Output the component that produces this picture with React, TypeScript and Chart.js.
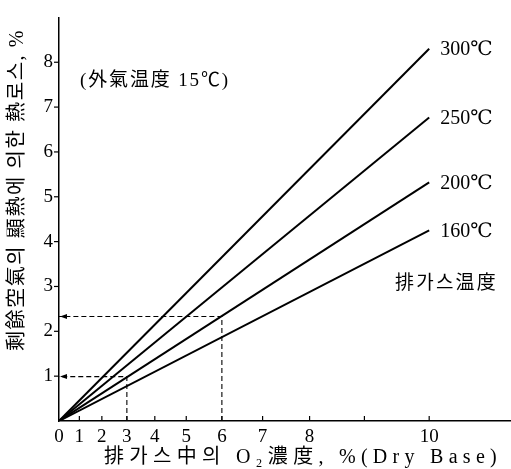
import React, { useEffect, useRef } from 'react';
import { Chart, registerables } from 'chart.js';

Chart.register(...registerables);

// ---- data ----
const o2Range = [0, 10]; // % O2 (dry base), line end points
const tempLabels = ['300℃', '250℃', '200℃', '160℃'];
const loss300 = [0, 8.3];
const loss250 = [0, 6.77];
const loss200 = [0, 5.32];
const loss160 = [0, 4.25];
const xTickO2 = [0, 1, 2, 3, 4, 5, 6, 7, 8, 9, 10];
const xTickLabels = ['0', '1', '2', '3', '4', '5', '6', '7', '8', '', '10'];
const yTickValues = [1, 2, 3, 4, 5, 6, 7, 8];
const guideO2 = [3, 6];
const guideLoss = [0.99, 2.33];
const noteText = '(外氣温度 15℃)';
const groupText = '排가스温度';
const xTitle = '排가스中의 O₂濃度, %(Dry Base)';
const yTitle = '剩餘空氣의 顯熱에 의한 熱로스, %';

// axis transform: O2 % -> excess air fraction (the x axis is linear in it)
const excessAir = (o2: number) => o2 / (21 - o2);

const SERIF = '"Liberation Serif", "DejaVu Serif", "Noto Sans CJK KR", serif';
const CJK = '"Liberation Serif", "Noto Sans CJK KR", serif';

function fitText(ctx: CanvasRenderingContext2D, text: string, width: number) {
  (ctx as any).letterSpacing = '0px';
  const w = ctx.measureText(text).width;
  const n = Array.from(text).length;
  const ls = n > 1 ? Math.max(0, (width - w) / n) : 0;
  (ctx as any).letterSpacing = ls + 'px';
}

const decorPlugin = {
  id: 'decor',
  afterDraw(chart: any) {
    const ctx: CanvasRenderingContext2D = chart.ctx;
    const xs = chart.scales.x;
    const ys = chart.scales.y;
    const area = chart.chartArea;
    ctx.save();
    ctx.strokeStyle = '#000';
    ctx.fillStyle = '#000';
    ctx.lineWidth = 1.2;
    // x ticks (inward, upward)
    xTickO2.forEach((v) => {
      if (v === 0) return;
      const px = xs.getPixelForValue(excessAir(v));
      ctx.beginPath();
      ctx.moveTo(px, area.bottom);
      ctx.lineTo(px, area.bottom - 5);
      ctx.stroke();
    });
    // y ticks (outward)
    yTickValues.forEach((v) => {
      const py = ys.getPixelForValue(v);
      ctx.beginPath();
      ctx.moveTo(area.left, py);
      ctx.lineTo(area.left - 5, py);
      ctx.stroke();
    });
    // arrowheads on guides
    guideLoss.forEach((v) => {
      const py = ys.getPixelForValue(v);
      const tx = area.left + 1;
      ctx.beginPath();
      ctx.moveTo(tx, py);
      ctx.lineTo(tx + 7, py - 2.5);
      ctx.lineTo(tx + 7, py + 2.5);
      ctx.closePath();
      ctx.fill();
    });
    // line labels
    const ends = [loss300, loss250, loss200, loss160];
    ctx.font = '20px ' + SERIF;
    ctx.textBaseline = 'middle';
    ctx.textAlign = 'left';
    tempLabels.forEach((t, i) => {
      const px = xs.getPixelForValue(excessAir(o2Range[1]));
      const py = ys.getPixelForValue(ends[i][1]);
      ctx.fillText(t, px + 11, py + 1);
    });
    // notes
    ctx.font = '19px ' + CJK;
    ctx.textAlign = 'left';
    fitText(ctx, noteText, 150);
    ctx.fillText(noteText, 80, 81);
    fitText(ctx, groupText, 103);
    ctx.fillText(groupText, 395, 284);
    // x title
    ctx.font = '20px ' + CJK;
    fitText(ctx, xTitle, 398);
    ctx.fillText(xTitle, 104, 458);
    // y title
    ctx.save();
    ctx.translate(18, 351);
    ctx.rotate(-Math.PI / 2);
    ctx.font = '20px ' + CJK;
    fitText(ctx, yTitle, 322);
    ctx.fillText(yTitle, 0, 0);
    ctx.restore();
    (ctx as any).letterSpacing = '0px';
    ctx.restore();
  },
};

export default function App() {
  const ref = useRef<HTMLCanvasElement | null>(null);
  useEffect(() => {
    if (!ref.current) return;
    const mkLine = (ys: number[]) => ({
      data: o2Range.map((o, i) => ({ x: excessAir(o), y: ys[i] })),
      borderColor: '#000',
      borderWidth: 2,
      pointRadius: 0,
      fill: false,
    });
    const guides = guideO2.map((o, i) => ({
      data: [
        { x: excessAir(o), y: 0 },
        { x: excessAir(o), y: guideLoss[i] },
        { x: 0, y: guideLoss[i] },
      ],
      borderColor: '#000',
      borderWidth: 1.1,
      borderDash: [5, 3],
      pointRadius: 0,
      fill: false,
    }));
    const chart = new Chart(ref.current, {
      type: 'line',
      data: {
        datasets: [
          mkLine(loss300),
          mkLine(loss250),
          mkLine(loss200),
          mkLine(loss160),
          ...guides,
        ] as any,
      },
      options: {
        responsive: false,
        animation: false,
        devicePixelRatio: 1,
        layout: { padding: { top: 10, right: 0, left: 0, bottom: 0 } },
        plugins: { legend: { display: false }, tooltip: { enabled: false } },
        scales: {
          x: {
            type: 'linear',
            min: 0,
            max: 1.11,
            afterFit: (s: any) => {
              s.height = 48;
            },
            afterBuildTicks: (s: any) => {
              s.ticks = xTickO2.map((v) => ({ value: excessAir(v) }));
            },
            ticks: {
              autoSkip: false,
              maxRotation: 0,
              padding: 5,
              color: '#000',
              font: { size: 19, family: SERIF },
              callback: (_v: any, i: number) => xTickLabels[i],
            },
            grid: { display: false, drawTicks: false },
            border: { display: true, color: '#000', width: 1.5 },
          },
          y: {
            type: 'linear',
            min: 0,
            max: 9,
            afterFit: (s: any) => {
              s.width = 59;
            },
            afterBuildTicks: (s: any) => {
              s.ticks = yTickValues.map((v) => ({ value: v }));
            },
            ticks: {
              padding: 6,
              color: '#000',
              font: { size: 19, family: SERIF },
              callback: (v: any) => String(v),
            },
            grid: { display: false, drawTicks: false },
            border: { display: true, color: '#000', width: 1.5 },
          },
        },
      } as any,
      plugins: [decorPlugin],
    });
    return () => chart.destroy();
  }, []);
  return (
    <div style={{ position: 'absolute', left: 0, top: 0, width: 511, height: 469, background: '#fff' }}>
      <canvas ref={ref} width={511} height={469} style={{ display: 'block' }} />
    </div>
  );
}
